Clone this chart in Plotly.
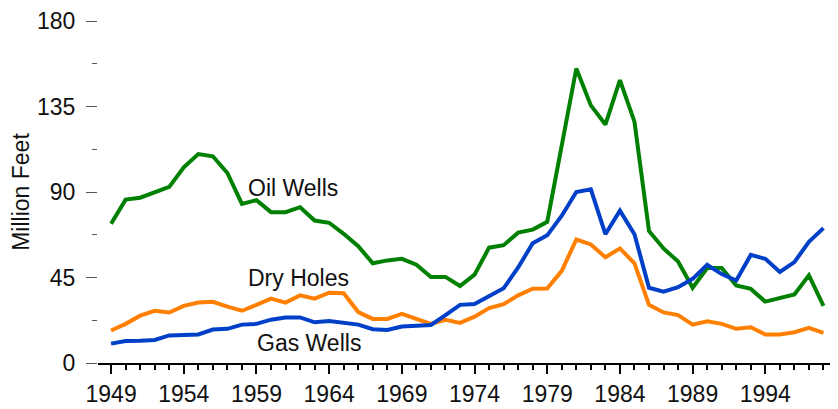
import plotly.graph_objects as go

years = list(range(1949, 1999))

oil_wells = [73.3, 86.0, 87.0, 89.7, 92.7, 103.0, 110.0, 108.8, 100.0, 83.7,
             85.7, 79.4, 79.4, 82.0, 75.0, 73.8, 68.0, 61.5, 52.5, 54.0,
             54.8, 51.7, 45.3, 45.3, 40.5, 46.5, 60.7, 62.0, 68.6, 70.2,
             74.3, 114.6, 155.0, 135.6, 125.5, 148.9, 127.0, 69.5, 60.3, 53.4,
             39.6, 50.0, 50.0, 40.8, 39.0, 32.3, 34.4, 36.1, 46.2, 30.1]

gas_wells = [10.2, 11.6, 11.7, 12.1, 14.5, 14.9, 15.0, 17.6, 18.0, 20.2,
             20.6, 22.8, 24.0, 24.0, 21.4, 22.1, 21.4, 20.2, 17.8, 17.4,
             19.2, 19.7, 20.0, 25.2, 30.6, 31.0, 35.1, 39.3, 50.3, 63.0,
             67.2, 77.5, 90.0, 91.4, 67.8, 80.2, 67.8, 39.6, 37.5, 39.9,
             44.3, 51.7, 46.8, 43.4, 56.9, 54.8, 47.9, 53.1, 63.8, 71.0]

dry_holes = [17.1, 20.6, 24.9, 27.5, 26.6, 30.1, 31.8, 32.2, 29.7, 27.5,
             30.6, 33.9, 31.8, 35.6, 33.9, 37.0, 36.7, 26.8, 23.2, 23.2,
             25.8, 23.2, 20.6, 22.7, 21.1, 24.4, 28.9, 31.0, 35.6, 39.1,
             39.2, 48.5, 65.0, 62.4, 55.7, 60.3, 52.5, 30.6, 26.6, 25.2,
             20.2, 21.9, 20.6, 18.0, 18.8, 15.0, 15.0, 16.2, 18.5, 15.9]

series_names = ["Oil Wells", "Dry Holes", "Gas Wells"]
series_colors = ["#008000", "#ff8000", "#0040c8"]
label_x = [1958.3, 1958.3, 1958.9]
label_y = [92.0, 45.0, 10.5]

x_ticks = list(range(1949, 1999, 5))
y_ticks = [0, 45, 90, 135, 180]

FONT = "Liberation Sans, Arial, sans-serif"
FS = 23

fig = go.Figure()
for name, vals, col in [("Oil Wells", oil_wells, series_colors[0]),
                        ("Dry Holes", dry_holes, series_colors[1]),
                        ("Gas Wells", gas_wells, series_colors[2])]:
    fig.add_trace(go.Scatter(x=years, y=vals, mode="lines", name=name,
                             line=dict(color=col, width=4), showlegend=False))

for name, lx, ly in zip(series_names, label_x, label_y):
    fig.add_annotation(x=lx, y=ly, text=name, showarrow=False, xanchor="left",
                       yanchor="middle", font=dict(size=FS, color="#111111", family=FONT))

# page body has an 8px margin, so the figure is drawn 8px smaller than the window
fig.update_layout(
    width=830, height=401,
    margin=dict(l=90, r=0, t=8, b=46),
    paper_bgcolor="white", plot_bgcolor="white",
    font=dict(family=FONT, size=FS, color="#111111"),
)
fig.update_xaxes(
    range=[1948.1, 1999.0],
    tickvals=x_ticks, ticktext=[str(v) for v in x_ticks],
    ticks="outside", ticklen=9, tickwidth=2, tickcolor="black",
    showline=True, linecolor="black", linewidth=2,
    showgrid=False, zeroline=False,
    minor=dict(dtick=1, tick0=1949, ticks="outside", ticklen=5, tickwidth=2, tickcolor="black", showgrid=False),
    tickfont=dict(size=FS),
    ticklabeloverflow="allow",
)
fig.update_yaxes(
    range=[0, 180],
    tickvals=y_ticks,
    ticks="outside", ticklen=11, tickwidth=1, tickcolor="#555555",
    ticklabelstandoff=6,
    ticklabeloverflow="allow",
    showline=False, showgrid=False, zeroline=False,
    minor=dict(tickvals=[22.5, 67.5, 112.5, 157.5], ticks="outside", ticklen=5, tickwidth=1, tickcolor="#555555", showgrid=False),
    title=dict(text="Million Feet", font=dict(size=FS), standoff=8),
    tickfont=dict(size=FS),
)

fig.write_html("out.html")
